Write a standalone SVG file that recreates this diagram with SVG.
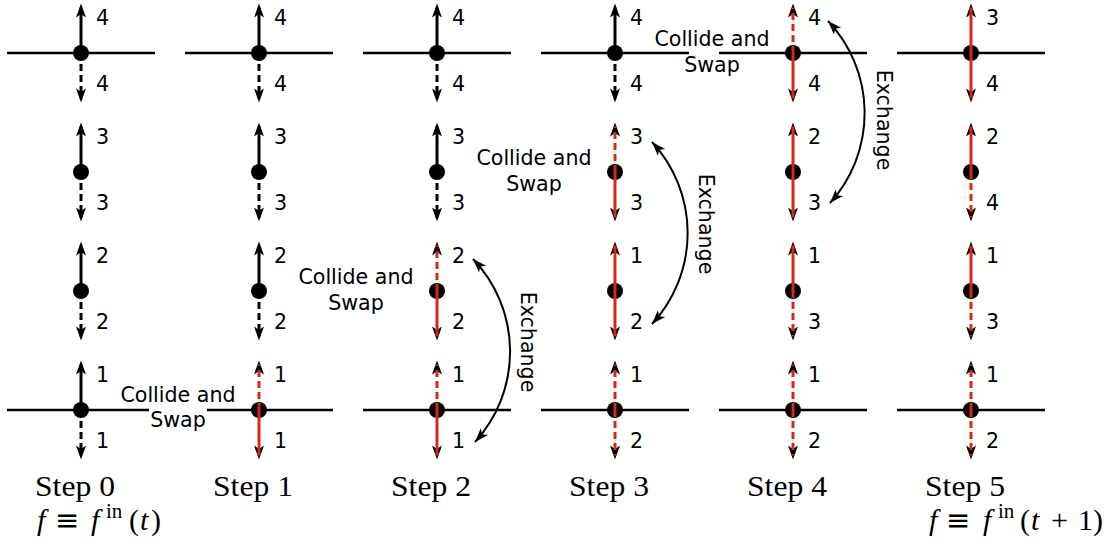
<svg xmlns="http://www.w3.org/2000/svg" xmlns:xlink="http://www.w3.org/1999/xlink" width="1109" height="542" viewBox="0 0 1109 542">
  <style>
    .wall { stroke: #000; stroke-width: 2.5; fill: none; }
    .k { stroke: #000; stroke-width: 3; fill: none; }
    .r { stroke: #d42a10; stroke-width: 3; fill: none; }
    .d { stroke-dasharray: 7 4; }
    .num { font-family: "DejaVu Sans", sans-serif; font-size: 20.6px; fill: #000; }
    .cap { font-family: "DejaVu Sans", sans-serif; font-size: 20.6px; fill: #000; text-anchor: middle; }
    .step { font-family: "Liberation Serif", serif; font-size: 30px; fill: #000; }
    .eq { font-family: "Liberation Serif", serif; font-size: 30px; fill: #000; }
    .eqv { font-family: "DejaVu Sans", sans-serif; font-size: 29px; }
    .arc { stroke: #000; stroke-width: 2; fill: none; marker-start: url(#tip); marker-end: url(#tip); }
  </style>
  <defs>
    <!-- stealth-style heads: pointing up / down, tip at origin -->
    <path id="hu" d="M0,0 L5,14 L0,10.5 L-5,14 Z" fill="#000"/>
    <path id="hd" d="M0,0 L5,-14 L0,-10.5 L-5,-14 Z" fill="#000"/>
    <marker id="tip" markerUnits="userSpaceOnUse" viewBox="-15 -6 16 12" refX="0" refY="0" markerWidth="16" markerHeight="12" orient="auto-start-reverse">
      <path d="M0,0 L-14,-5 L-10.5,0 L-14,5 Z" fill="#000"/>
    </marker>
  </defs>

  <!-- lattice boundaries -->
  <g id="walls">
    <path class="wall" d="M7,53H155 M185,53H333 M363,53H511 M541,53H689 M719,53H867 M897,53H1045"/>
    <path class="wall" d="M7,410H155 M185,410H333 M363,410H511 M541,410H689 M719,410H867 M897,410H1045"/>
  </g>

  <!-- Step 0 -->
  <g id="s0n4" transform="translate(81,53)"><use href="#hu" y="-49.5"/><use href="#hd" y="49.5"/><circle r="8"/><path class="k" d="M0,0V-45.5"/><path class="k d" d="M0,0V45.5"/><text class="num" x="15" y="-28">4</text><text class="num" x="15" y="38">4</text></g>
  <g id="s0n3" transform="translate(81,172)"><use href="#hu" y="-49.5"/><use href="#hd" y="49.5"/><circle r="8"/><path class="k" d="M0,0V-45.5"/><path class="k d" d="M0,0V45.5"/><text class="num" x="15" y="-28">3</text><text class="num" x="15" y="38">3</text></g>
  <g id="s0n2" transform="translate(81,291)"><use href="#hu" y="-49.5"/><use href="#hd" y="49.5"/><circle r="8"/><path class="k" d="M0,0V-45.5"/><path class="k d" d="M0,0V45.5"/><text class="num" x="15" y="-28">2</text><text class="num" x="15" y="38">2</text></g>
  <g id="s0n1" transform="translate(81,410)"><use href="#hu" y="-49.5"/><use href="#hd" y="49.5"/><circle r="8"/><path class="k" d="M0,0V-45.5"/><path class="k d" d="M0,0V45.5"/><text class="num" x="15" y="-28">1</text><text class="num" x="15" y="38">1</text></g>

  <!-- Step 1 -->
  <g id="s1n4" transform="translate(259,53)"><use href="#hu" y="-49.5"/><use href="#hd" y="49.5"/><circle r="8"/><path class="k" d="M0,0V-45.5"/><path class="k d" d="M0,0V45.5"/><text class="num" x="15" y="-28">4</text><text class="num" x="15" y="38">4</text></g>
  <g id="s1n3" transform="translate(259,172)"><use href="#hu" y="-49.5"/><use href="#hd" y="49.5"/><circle r="8"/><path class="k" d="M0,0V-45.5"/><path class="k d" d="M0,0V45.5"/><text class="num" x="15" y="-28">3</text><text class="num" x="15" y="38">3</text></g>
  <g id="s1n2" transform="translate(259,291)"><use href="#hu" y="-49.5"/><use href="#hd" y="49.5"/><circle r="8"/><path class="k" d="M0,0V-45.5"/><path class="k d" d="M0,0V45.5"/><text class="num" x="15" y="-28">2</text><text class="num" x="15" y="38">2</text></g>
  <g id="s1n1" transform="translate(259,410)"><use href="#hu" y="-49.5"/><use href="#hd" y="49.5"/><circle r="8"/><path class="r d" d="M0,0V-45.5"/><path class="r" d="M0,0V45.5"/><text class="num" x="15" y="-28">1</text><text class="num" x="15" y="38">1</text></g>

  <!-- Step 2 -->
  <g id="s2n4" transform="translate(437,53)"><use href="#hu" y="-49.5"/><use href="#hd" y="49.5"/><circle r="8"/><path class="k" d="M0,0V-45.5"/><path class="k d" d="M0,0V45.5"/><text class="num" x="15" y="-28">4</text><text class="num" x="15" y="38">4</text></g>
  <g id="s2n3" transform="translate(437,172)"><use href="#hu" y="-49.5"/><use href="#hd" y="49.5"/><circle r="8"/><path class="k" d="M0,0V-45.5"/><path class="k d" d="M0,0V45.5"/><text class="num" x="15" y="-28">3</text><text class="num" x="15" y="38">3</text></g>
  <g id="s2n2" transform="translate(437,291)"><use href="#hu" y="-49.5"/><use href="#hd" y="49.5"/><circle r="8"/><path class="r d" d="M0,0V-45.5"/><path class="r" d="M0,0V45.5"/><text class="num" x="15" y="-28">2</text><text class="num" x="15" y="38">2</text></g>
  <g id="s2n1" transform="translate(437,410)"><use href="#hu" y="-49.5"/><use href="#hd" y="49.5"/><circle r="8"/><path class="r d" d="M0,0V-45.5"/><path class="r" d="M0,0V45.5"/><text class="num" x="15" y="-28">1</text><text class="num" x="15" y="38">1</text></g>

  <!-- Step 3 -->
  <g id="s3n4" transform="translate(615,53)"><use href="#hu" y="-49.5"/><use href="#hd" y="49.5"/><circle r="8"/><path class="k" d="M0,0V-45.5"/><path class="k d" d="M0,0V45.5"/><text class="num" x="15" y="-28">4</text><text class="num" x="15" y="38">4</text></g>
  <g id="s3n3" transform="translate(615,172)"><use href="#hu" y="-49.5"/><use href="#hd" y="49.5"/><circle r="8"/><path class="r d" d="M0,0V-45.5"/><path class="r" d="M0,0V45.5"/><text class="num" x="15" y="-28">3</text><text class="num" x="15" y="38">3</text></g>
  <g id="s3n2" transform="translate(615,291)"><use href="#hu" y="-49.5"/><use href="#hd" y="49.5"/><circle r="8"/><path class="r" d="M0,0V-45.5"/><path class="r" d="M0,0V45.5"/><text class="num" x="15" y="-28">1</text><text class="num" x="15" y="38">2</text></g>
  <g id="s3n1" transform="translate(615,410)"><use href="#hu" y="-49.5"/><use href="#hd" y="49.5"/><circle r="8"/><path class="r d" d="M0,0V-45.5"/><path class="r d" d="M0,0V45.5"/><text class="num" x="15" y="-28">1</text><text class="num" x="15" y="38">2</text></g>

  <!-- Step 4 -->
  <g id="s4n4" transform="translate(793,53)"><use href="#hu" y="-49.5"/><use href="#hd" y="49.5"/><circle r="8"/><path class="r d" d="M0,0V-45.5"/><path class="r" d="M0,0V45.5"/><text class="num" x="15" y="-28">4</text><text class="num" x="15" y="38">4</text></g>
  <g id="s4n3" transform="translate(793,172)"><use href="#hu" y="-49.5"/><use href="#hd" y="49.5"/><circle r="8"/><path class="r" d="M0,0V-45.5"/><path class="r" d="M0,0V45.5"/><text class="num" x="15" y="-28">2</text><text class="num" x="15" y="38">3</text></g>
  <g id="s4n2" transform="translate(793,291)"><use href="#hu" y="-49.5"/><use href="#hd" y="49.5"/><circle r="8"/><path class="r" d="M0,0V-45.5"/><path class="r d" d="M0,0V45.5"/><text class="num" x="15" y="-28">1</text><text class="num" x="15" y="38">3</text></g>
  <g id="s4n1" transform="translate(793,410)"><use href="#hu" y="-49.5"/><use href="#hd" y="49.5"/><circle r="8"/><path class="r d" d="M0,0V-45.5"/><path class="r d" d="M0,0V45.5"/><text class="num" x="15" y="-28">1</text><text class="num" x="15" y="38">2</text></g>

  <!-- Step 5 -->
  <g id="s5n4" transform="translate(971,53)"><use href="#hu" y="-49.5"/><use href="#hd" y="49.5"/><circle r="8"/><path class="r" d="M0,0V-45.5"/><path class="r" d="M0,0V45.5"/><text class="num" x="15" y="-28">3</text><text class="num" x="15" y="38">4</text></g>
  <g id="s5n3" transform="translate(971,172)"><use href="#hu" y="-49.5"/><use href="#hd" y="49.5"/><circle r="8"/><path class="r" d="M0,0V-45.5"/><path class="r d" d="M0,0V45.5"/><text class="num" x="15" y="-28">2</text><text class="num" x="15" y="38">4</text></g>
  <g id="s5n2" transform="translate(971,291)"><use href="#hu" y="-49.5"/><use href="#hd" y="49.5"/><circle r="8"/><path class="r" d="M0,0V-45.5"/><path class="r d" d="M0,0V45.5"/><text class="num" x="15" y="-28">1</text><text class="num" x="15" y="38">3</text></g>
  <g id="s5n1" transform="translate(971,410)"><use href="#hu" y="-49.5"/><use href="#hd" y="49.5"/><circle r="8"/><path class="r d" d="M0,0V-45.5"/><path class="r d" d="M0,0V45.5"/><text class="num" x="15" y="-28">1</text><text class="num" x="15" y="38">2</text></g>

  <!-- exchange connectors -->
  <g id="connectors">
    <path class="arc" d="M473,259 A134,134 0 0 1 475,442"/>
    <path class="arc" d="M652,142 A134,134 0 0 1 652,324"/>
    <path class="arc" d="M828,21 A134,134 0 0 1 830,203"/>
    <text class="cap" transform="translate(521,342) rotate(90)">Exchange</text>
    <text class="cap" transform="translate(699,224) rotate(90)">Exchange</text>
    <text class="cap" transform="translate(877,120) rotate(90)">Exchange</text>
  </g>

  <!-- collide-and-swap captions -->
  <g id="swap-labels">
    <rect x="149" y="407" width="58" height="26" fill="#fff"/>
    <text class="cap" x="178" y="402">Collide and</text><text class="cap" x="178" y="427">Swap</text>
    <text class="cap" x="356" y="284">Collide and</text><text class="cap" x="356" y="310">Swap</text>
    <text class="cap" x="534" y="165">Collide and</text><text class="cap" x="534" y="191">Swap</text>
    <text class="cap" x="712" y="46">Collide and</text><text class="cap" x="712" y="72">Swap</text>
  </g>

  <!-- step captions -->
  <g id="steps">
    <text class="step" x="35" y="496" textLength="80" lengthAdjust="spacingAndGlyphs">Step 0</text>
    <text class="step" x="213" y="496" textLength="80" lengthAdjust="spacingAndGlyphs">Step 1</text>
    <text class="step" x="391" y="496" textLength="80" lengthAdjust="spacingAndGlyphs">Step 2</text>
    <text class="step" x="569" y="496" textLength="80" lengthAdjust="spacingAndGlyphs">Step 3</text>
    <text class="step" x="747" y="496" textLength="80" lengthAdjust="spacingAndGlyphs">Step 4</text>
    <text class="step" x="925" y="496" textLength="80" lengthAdjust="spacingAndGlyphs">Step 5</text>
    <text class="eq" y="530"><tspan x="37" font-style="italic">f</tspan><tspan class="eqv" x="55">≡</tspan><tspan x="91" font-style="italic">f</tspan><tspan x="106" y="518" font-size="21">in</tspan><tspan x="129" y="530">(</tspan><tspan x="140" font-style="italic">t</tspan><tspan x="151">)</tspan></text>
    <text class="eq" y="530"><tspan x="929" font-style="italic">f</tspan><tspan class="eqv" x="946">≡</tspan><tspan x="983" font-style="italic">f</tspan><tspan x="998" y="518" font-size="21">in</tspan><tspan x="1020" y="530">(</tspan><tspan x="1031" font-style="italic">t</tspan><tspan x="1051">+</tspan><tspan x="1078">1</tspan><tspan x="1093">)</tspan></text>
  </g>
</svg>
